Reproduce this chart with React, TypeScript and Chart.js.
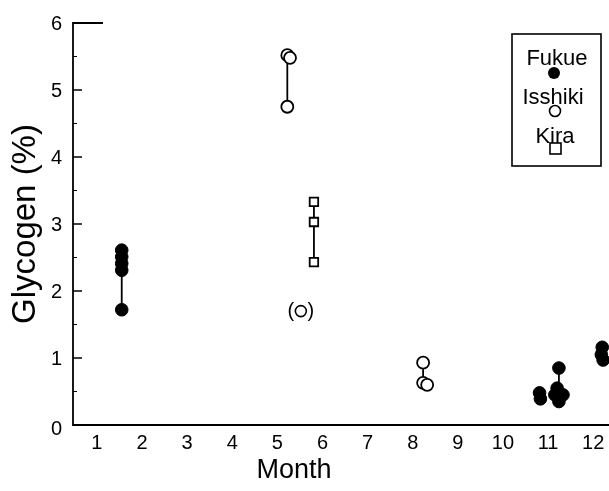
import React, { useEffect, useRef } from "react";
import { Chart, registerables } from "chart.js";

Chart.register(...registerables);

// ---- data ----
const monthTicks = [1, 2, 3, 4, 5, 6, 7, 8, 9, 10, 11, 12];
const yTicks = [0, 1, 2, 3, 4, 5, 6];
const yMinorTicks = [0.5, 1.5, 2.5, 3.5, 4.5, 5.5];

const fukueMonth = [1.55, 1.55, 1.55, 1.55, 1.55, 10.81, 10.83, 11.24, 11.2, 11.15, 11.33, 11.24, 12.2, 12.18, 12.22];
const fukueValue = [2.61, 2.51, 2.41, 2.31, 1.72, 0.48, 0.39, 0.85, 0.55, 0.45, 0.45, 0.35, 1.16, 1.05, 0.97];

const isshikiMonth = [5.22, 5.28, 5.22, 8.23, 8.23, 8.32];
const isshikiValue = [5.52, 5.48, 4.75, 0.93, 0.63, 0.6];

const kiraMonth = [5.81, 5.81, 5.81];
const kiraValue = [3.33, 3.03, 2.43];

const outlierMonth = [5.52];
const outlierValue = [1.7];

// vertical range bars: month, low, high
const rangeMonth = [1.55, 5.22, 5.81, 8.23, 11.24, 12.2];
const rangeLow = [1.72, 4.75, 2.43, 0.63, 0.35, 0.97];
const rangeHigh = [2.61, 5.52, 3.33, 0.93, 0.85, 1.16];

const legendNames = ["Fukue", "Isshiki", "Kira"];

const FONT = "'Liberation Sans', Arial, Helvetica, sans-serif";

const pts = (xs: number[], ys: number[]) => xs.map((x, i) => ({ x, y: ys[i] }));

const framePlugin = {
  id: "frame",
  afterDatasetsDraw(chart: any) {
    const ctx = chart.ctx as CanvasRenderingContext2D;
    const xs = chart.scales.x;
    const ys = chart.scales.y;
    const { left, right, top, bottom } = chart.chartArea;
    ctx.save();
    ctx.strokeStyle = "#000";
    ctx.fillStyle = "#000";
    ctx.lineWidth = 1.8;
    // axes
    ctx.beginPath();
    ctx.moveTo(left + 30, top);
    ctx.lineTo(left, top);
    ctx.lineTo(left, bottom);
    ctx.lineTo(right, bottom);
    ctx.stroke();
    // y ticks inside
    ctx.lineWidth = 1.5;
    yTicks.forEach((v) => {
      if (v === 0 || v === 6) return;
      const py = ys.getPixelForValue(v);
      ctx.beginPath();
      ctx.moveTo(left, py);
      ctx.lineTo(left + 9, py);
      ctx.stroke();
    });
    ctx.lineWidth = 1;
    yMinorTicks.forEach((v) => {
      const py = ys.getPixelForValue(v);
      ctx.beginPath();
      ctx.moveTo(left, py);
      ctx.lineTo(left + 4, py);
      ctx.stroke();
    });
    // y tick labels
    ctx.font = `20px ${FONT}`;
    ctx.textAlign = "right";
    ctx.textBaseline = "middle";
    yTicks.forEach((v) => {
      const off = v === 0 ? 4 : 1;
      ctx.fillText(String(v), 62, ys.getPixelForValue(v) + off);
    });
    // x tick labels
    ctx.textAlign = "center";
    monthTicks.forEach((m) => {
      ctx.fillText(String(m), xs.getPixelForValue(m), 443);
    });
    // axis titles
    ctx.font = `27px ${FONT}`;
    ctx.fillText("Month", 294, 471);
    ctx.save();
    ctx.translate(26, 224);
    ctx.rotate(-Math.PI / 2);
    ctx.font = `33px ${FONT}`;
    ctx.fillText("Glycogen (%)", 0, 0);
    ctx.restore();
    // parentheses around outlier
    ctx.font = `20px ${FONT}`;
    outlierMonth.forEach((m, i) => {
      const px = xs.getPixelForValue(m);
      const py = ys.getPixelForValue(outlierValue[i]);
      ctx.fillText("(", px - 10, py);
      ctx.fillText(")", px + 10, py);
    });
    // legend box
    ctx.lineWidth = 1.6;
    ctx.strokeRect(512, 34, 89, 132);
    ctx.font = `22px ${FONT}`;
    ctx.fillText(legendNames[0], 557, 59);
    ctx.fillText(legendNames[1], 553, 98);
    ctx.fillText(legendNames[2], 555, 137);
    // markers
    ctx.beginPath();
    ctx.arc(554, 73, 6, 0, Math.PI * 2);
    ctx.fill();
    ctx.beginPath();
    ctx.arc(555, 111, 5.5, 0, Math.PI * 2);
    ctx.fillStyle = "#fff";
    ctx.fill();
    ctx.stroke();
    ctx.fillRect(550, 143, 11, 11);
    ctx.strokeRect(550, 143, 11, 11);
    ctx.restore();
  },
};

export default function App() {
  const ref = useRef<HTMLCanvasElement | null>(null);
  useEffect(() => {
    if (!ref.current) return;
    const rangeSets = rangeMonth.map((m, i) => ({
      type: "line" as const,
      data: [
        { x: m, y: rangeLow[i] },
        { x: m, y: rangeHigh[i] },
      ],
      borderColor: "#000",
      borderWidth: 1.8,
      pointRadius: 0,
      showLine: true,
      order: 10,
    }));
    const chart = new Chart(ref.current, {
      type: "scatter",
      data: {
        datasets: [
          {
            label: "Fukue",
            data: pts(fukueMonth, fukueValue),
            pointStyle: "circle",
            pointRadius: 6.3,
            backgroundColor: "#000",
            borderColor: "#000",
            borderWidth: 1,
            order: 1,
          },
          {
            label: "Isshiki",
            data: pts(isshikiMonth, isshikiValue),
            pointStyle: "circle",
            pointRadius: 6,
            backgroundColor: "#fff",
            borderColor: "#000",
            borderWidth: 1.8,
            order: 1,
          },
          {
            label: "Kira",
            data: pts(kiraMonth, kiraValue),
            pointStyle: "rect",
            pointRadius: 6,
            backgroundColor: "#fff",
            borderColor: "#000",
            borderWidth: 1.8,
            order: 1,
          },
          {
            label: "Isshiki (outlier)",
            data: pts(outlierMonth, outlierValue),
            pointStyle: "circle",
            pointRadius: 5.5,
            backgroundColor: "#fff",
            borderColor: "#000",
            borderWidth: 1.6,
            order: 1,
          },
          ...rangeSets,
        ] as any,
      },
      options: {
        animation: false,
        responsive: false,
        layout: { autoPadding: false, padding: { left: 73, top: 23, right: 0, bottom: 66 } },
        plugins: { legend: { display: false }, tooltip: { enabled: false } },
        scales: {
          x: { type: "linear", min: 0.47, max: 12.35, display: false },
          y: { type: "linear", min: 0, max: 6, display: false },
        },
      },
      plugins: [framePlugin],
    });
    return () => chart.destroy();
  }, []);
  return (
    <div style={{ position: "fixed", left: 0, top: 0, width: 609, height: 491, background: "#fff" }}>
      <canvas ref={ref} width={609} height={491} style={{ width: 609, height: 491 }} />
    </div>
  );
}
